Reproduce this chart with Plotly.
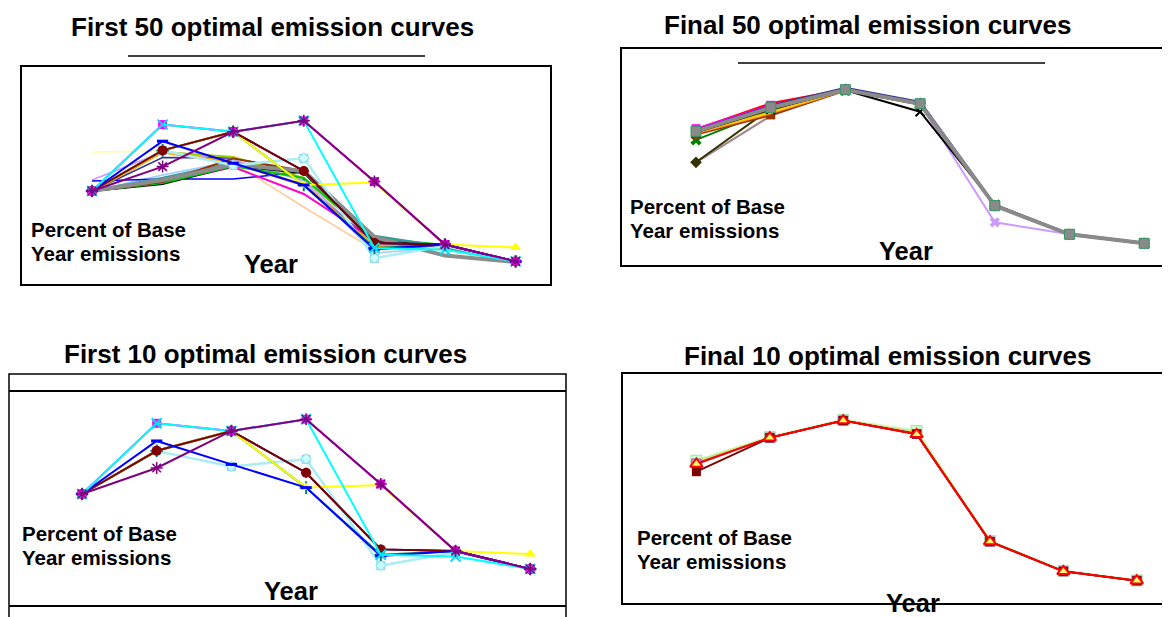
import plotly.graph_objects as go

# page body has an 8px margin: figure is drawn from (8, 8) of the window
OFF = 8
W, H = 1170 - OFF, 617 - OFF
periods = [1, 2, 3, 4, 5, 6, 7]

# ---------------- First 10 optimal curves (also the first 10 of the first 50) ----------------
s01_navy = [100, 120.3, 129.6, 110, 74, 73.2, 64.8]
s02_magenta = [100, 133.2, 129.6, 135.1, 104.7, 73.2, 64.8]
s03_yellow = [100, 120.3, 129.6, 103, 104.2, 73.2, 71.8]
s04_cyan = [100, 133.2, 129.6, 135.1, 71.5, 70.6, 64.8]
s05_purple = [100, 112.2, 129.6, 135.1, 104.7, 73.2, 64.8]
s06_darkred = [100, 120.3, 129.6, 110, 74, 73.2, 64.8]
s07_teal = [100, 120.3, 129.6, 103, 71.5, 73.2, 64.8]
s08_blue = [100, 124.9, 113.9, 103, 70.9, 73.2, 64.8]
s09_sky = [100, 120.0, 113.0, 116.5, 66.5, 72.6, 64.8]
s10_pale = [100, 120.3, 112.8, 116.3, 66.3, 72.6, 64.8]

# ---------------- Remaining curves of the first 50 ----------------
e_green = [100, 104, 112.5, 106.5, 76.5, 73, 64.5]
e_pink = [100, 104, 112, 98.5, 75.5, 73, 64.5]
e_teal2 = [100, 106.5, 114, 109.5, 77.5, 72, 64.5]
e_black = [100, 103.5, 112.5, 109, 75.5, 72.5, 64.5]
e_brown = [100, 104.5, 116.2, 110, 74, 73, 64.5]
e_peach = [100, 119.5, 114, 92, 70.5, 71.5, 64.5]
e_orange = [100, 119.5, 114, 103, 72.5, 71.5, 64.5]
e_yellowgreen = [100, 119.5, 117, 106.5, 75.5, 73, 64.5]
e_slate = [100, 116.7, 116.5, 109, 74.5, 73, 64.5]
e_lavender = [105.5, 119.5, 115.5, 105.5, 73, 73, 64.5]
e_lightyellow = [119.5, 120, 115.5, 103, 72, 72, 64.5]
e_blue2 = [105, 106, 106, 109.5, 74.5, 73, 64.5]
e_red = [100, 104, 113, 109.5, 75.5, 72, 64.5]
e_cornflower = [100, 105, 114.5, 103, 74.5, 72.5, 64.5]
e_lightblue = [100, 108, 115, 105, 69, 71.5, 64.5]
e_gray = [100, 105.5, 113.2, 110, 76.9, 67.7, 64.5]

# ---------------- Final 50 optimal curves ----------------
f_peach = [105, 128.6, 141, 134, 83.3, 69, 64.5]
f_mauve = [105, 128.2, 141, 134, 83.3, 69, 64.5]
f_olive = [105, 132, 141.5, 134.5, 83.3, 69, 64.5]
f_green = [116.2, 131, 141, 134, 83.3, 69, 64.5]
f_brown = [119, 128.7, 141, 134, 83.3, 69, 64.5]
f_orange = [119.5, 129.5, 141, 134, 83.3, 69, 64.5]
f_yellow = [120, 130, 141.3, 134.3, 83.3, 69, 64.5]
f_teal = [120, 131.5, 141.2, 134.2, 83.3, 69, 64.5]
f_red = [121.5, 134.5, 141.5, 134.5, 83.3, 69, 64.5]
f_magenta = [121.8, 133.5, 141.5, 134.5, 83.3, 69, 64.5]
f_navy = [120.8, 133, 142, 135, 83.5, 69, 64.5]
f_lavender = [120.5, 132, 141.5, 134, 75, 69, 64.5]
f_black = [120, 131.5, 141, 130.3, 83.8, 69, 64.5]
f_gray = [120.5, 132.3, 141.3, 134.3, 83.3, 69, 64.5]

# ---------------- Final 10 optimal curves ----------------
g_lightgreen = [122.2, 133.5, 141.8, 136.5, 83.5, 69.2, 64.6]
g_yellow = [122, 133.3, 141.6, 136, 83.4, 69.1, 64.5]
g_blue = [121, 133.25, 141.5, 135.3, 83.3, 69, 64.5]
g_purple = [120.8, 133.25, 141.5, 135, 83.3, 69, 64.5]
g_darkred = [116.9, 133.2, 141.5, 135, 83.3, 69, 64.5]
g_red = [120.6, 133.25, 141.5, 134.9, 83.3, 69, 64.5]

titles = ["First 50 optimal emission curves", "Final 50 optimal emission curves",
          "First 10 optimal emission curves", "Final 10 optimal emission curves"]
ylabel_lines = ["Percent of Base", "Year emissions"]
xlabel = "Year"

FONT = "Liberation Sans, Arial, sans-serif"


def fx(px):
    return (px - OFF) / W


def fy(py):
    return 1 - (py - OFF) / H


fig = go.Figure()

# panel geometry (window pixels): frame box, first point x, step, value<->pixel mapping
panels = {
    1: dict(left=21, right=551, top=66, bottom=285, p1=92, step=70.6, v=lambda py: 100 + (191 - py) * 0.5),
    2: dict(left=621, right=1170, top=48, bottom=266, p1=696, step=74.7, v=lambda py: 64.5 + (243.3 - py) * 0.5),
    3: dict(left=8, right=566, top=391, bottom=606, p1=82, step=74.7, v=lambda py: 100 + (494 - py) / 2.13),
    4: dict(left=622, right=1170, top=373, bottom=604, p1=696.4, step=73.4, v=lambda py: 64.5 + (580.7 - py) / 2.08),
}

for n, p in panels.items():
    xr = [1 - (p["p1"] - p["left"]) / p["step"], 1 + (p["right"] - p["p1"]) / p["step"]]
    yr = [p["v"](p["bottom"]), p["v"](p["top"])]
    sfx = "" if n == 1 else str(n)
    fig.update_layout(**{
        "xaxis" + sfx: dict(domain=[max(0, fx(p["left"])), min(1, fx(p["right"]))], range=xr, visible=False,
                            anchor="y" + sfx, fixedrange=True),
        "yaxis" + sfx: dict(domain=[fy(p["bottom"]), fy(p["top"])], range=yr, visible=False,
                            anchor="x" + sfx, fixedrange=True),
    })


def add(panel, vals, color, width=2, symbol=None, msize=8, mcolor=None, mline=None, mlw=0, dash=None):
    sfx = "" if panel == 1 else str(panel)
    mode = "lines+markers" if symbol else "lines"
    marker = None
    if symbol:
        marker = dict(symbol=symbol, size=msize, color=mcolor or color,
                      line=dict(color=mline or color, width=mlw))
    fig.add_trace(go.Scatter(x=periods, y=vals, mode=mode,
                             line=dict(color=color, width=width, dash=dash),
                             marker=marker, xaxis="x" + sfx, yaxis="y" + sfx,
                             showlegend=False, hoverinfo="skip", cliponaxis=False))


def first10(panel):
    add(panel, s10_pale, "#b8f2f8", 2.5, "square", 8, "#ccffff", "#88ccee", 1)
    add(panel, s09_sky, "#a6ecf5", 1.5, "diamond", 8, "#ccffff", "#88ddee", 1)
    add(panel, s01_navy, "#000080", 2, "diamond", 8)
    add(panel, s07_teal, "#008080", 2, "cross-thin", 9, None, "#008080", 2)
    add(panel, s03_yellow, "#ffff00", 2, "triangle-up", 10)
    add(panel, s06_darkred, "#800000", 2, "circle", 10)
    add(panel, s08_blue, "#0000ff", 2, "line-ew", 8, None, "#0000ff", 3)
    add(panel, s02_magenta, "#ff00ff", 2, "square", 9)
    add(panel, s04_cyan, "#00ffff", 2, "x-thin", 10, None, "#00e0f0", 2)
    add(panel, s05_purple, "#800080", 2, "asterisk", 10, None, "#800080", 1.5)


# Panel 1: first 50
add(1, e_lightyellow, "#ffff99", 1.5)
add(1, e_peach, "#ffcc99", 1.5)
add(1, e_lightblue, "#99ccff", 1.5)
add(1, e_lavender, "#cc99ff", 1.5)
add(1, e_blue2, "#0000ff", 1.5)
add(1, e_cornflower, "#3366ff", 1.5)
add(1, e_slate, "#333399", 1.5)
add(1, e_yellowgreen, "#99cc00", 2)
add(1, e_orange, "#ffaa00", 3)
add(1, e_red, "#ff0000", 2)
add(1, e_pink, "#ff00cc", 2)
add(1, e_black, "#000000", 2)
add(1, e_green, "#00cc00", 2)
add(1, e_teal2, "#339999", 2.5)
add(1, e_brown, "#993300", 2)
add(1, e_gray, "#8c8c8c", 4)
first10(1)

# Panel 2: final 50
add(2, f_peach, "#ffcc99", 2)
add(2, f_mauve, "#998899", 2)
add(2, f_olive, "#333300", 2, "diamond", 9)
add(2, f_green, "#008000", 2, "x", 10, "#008000")
add(2, f_brown, "#993300", 2.5, "square", 9)
add(2, f_orange, "#ff9900", 2)
add(2, f_yellow, "#ffcc00", 2)
add(2, f_teal, "#339966", 2)
add(2, f_red, "#ff0000", 2)
add(2, f_magenta, "#ff00ff", 2, "square", 9)
add(2, f_navy, "#333399", 3)
add(2, f_lavender, "#cc99ff", 2, "x", 9, "#cc99ff")
add(2, f_black, "#000000", 2, "x-thin", 9, None, "#000000", 2)
add(2, f_gray, "#8a8a8a", 4, "square", 10, "#8a8a8a", "#339966", 1)

# Panel 3: first 10
first10(3)

# Panel 4: final 10
add(4, g_lightgreen, "#ccffcc", 3, "square", 11, "#ccffcc", "#aaddaa", 1)
add(4, g_yellow, "#dddd66", 2)
add(4, g_blue, "#3366ff", 1.5)
add(4, g_purple, "#993366", 1.5, "square", 9, "#ccccff", "#993399", 1)
add(4, g_darkred, "#800000", 2, "square", 9)
add(4, g_red, "#ff0000", 2, "triangle-up", 11, "#ffff66", "#ff0000", 2)

# ---------------- frames and lines ----------------
shapes = []


def rect(x0, y0, x1, y1, w=2):
    shapes.append(dict(type="rect", xref="paper", yref="paper", x0=fx(x0), x1=fx(x1),
                       y0=fy(y1), y1=fy(y0), line=dict(color="black", width=w),
                       fillcolor="rgba(0,0,0,0)", layer="below"))


def hline(x0, x1, y, w=1.5):
    shapes.append(dict(type="line", xref="paper", yref="paper", x0=fx(x0), x1=fx(x1),
                       y0=fy(y), y1=fy(y), line=dict(color="black", width=w)))


rect(21, 66, 551, 285)
hline(128, 425, 56)
rect(621, 48, 1180, 266)
hline(738, 1045, 63)
rect(9, 374, 566, 640, 1.5)
hline(9, 566, 391, 2)
hline(9, 566, 606, 2)
rect(622, 373, 1180, 604)

annotations = []


def text(s, x, y, size, xanchor="center"):
    annotations.append(dict(text="<b>" + s + "</b>", xref="paper", yref="paper", x=fx(x), y=fy(y),
                            xanchor=xanchor, yanchor="middle", showarrow=False,
                            font=dict(family=FONT, size=size, color="black")))


title_pos = [(272.7, 27), (867.6, 24.5), (265.5, 354), (887.3, 356)]
for t, (x, y) in zip(titles, title_pos):
    text(t, x, y, 26)

# left-anchored labels: shifted by the annotation's inner padding
ylab_pos = [(28.5, 229, 253.7), (627.5, 206, 230), (19.5, 533, 557.5), (635, 537.5, 561.7)]
for x, y1, y2 in ylab_pos:
    text(ylabel_lines[0], x, y1, 20.5, "left")
    text(ylabel_lines[1], x, y2, 20.5, "left")

xlab_pos = [(270.5, 264), (906, 251), (291, 591), (912.7, 603)]
for x, y in xlab_pos:
    text(xlabel, x, y, 25.5)

fig.update_layout(width=W, height=H, margin=dict(l=0, r=0, t=0, b=0),
                  paper_bgcolor="white", plot_bgcolor="rgba(0,0,0,0)",
                  shapes=shapes, annotations=annotations, showlegend=False)

fig.write_html("out.html")
